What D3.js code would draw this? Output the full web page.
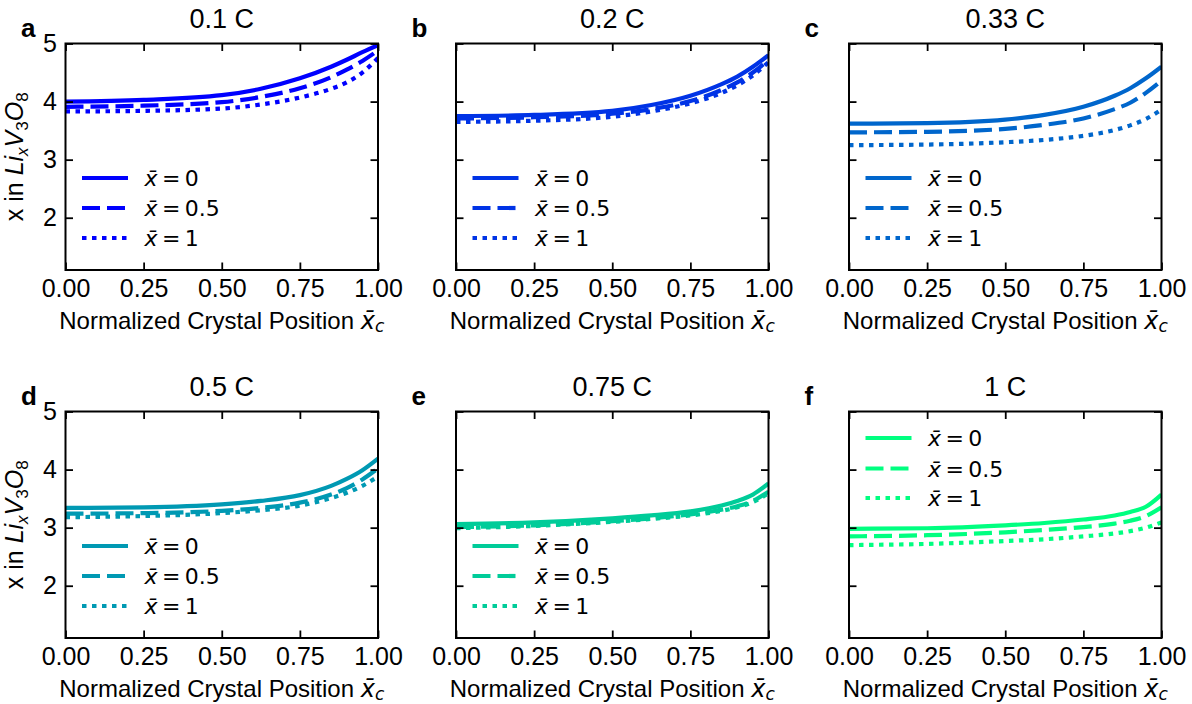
<!DOCTYPE html>
<html>
<head>
<meta charset="utf-8">
<script src="https://cdn.jsdelivr.net/npm/d3@7"></script>
<style>
  html, body { margin: 0; padding: 0; background: #fff; }
  svg { display: block; }
</style>
</head>
<body>
<div id="chart"></div>
<script>
// ---------------- data ----------------
const panelLetters = ["a", "b", "c", "d", "e", "f"];
const panelTitles = ["0.1 C", "0.2 C", "0.33 C", "0.5 C", "0.75 C", "1 C"];
const seriesNames = ["0", "0.5", "1"];            // x-bar values (legend)
const xPos = [0, 0.25, 0.5, 0.625, 0.75, 0.85, 0.9, 0.95, 1.0];
const xTicks = [0, 0.25, 0.5, 0.75, 1.0];
const xTickLabels = ["0.00", "0.25", "0.50", "0.75", "1.00"];
const yTicks = [2, 3, 4, 5];
const yTickLabels = ["2", "3", "4", "5"];
const colors = ["#0000ff", "#0033e6", "#0066cc", "#0099b3", "#00cc99", "#00ff80"];

const rate01 = [
  [4.00, 4.03, 4.11, 4.22, 4.40, 4.60, 4.72, 4.85, 4.97],
  [3.91, 3.93, 3.99, 4.08, 4.23, 4.42, 4.55, 4.70, 4.88],
  [3.83, 3.84, 3.88, 3.95, 4.07, 4.22, 4.33, 4.50, 4.75]
];
const rate02 = [
  [3.75, 3.77, 3.84, 3.94, 4.10, 4.30, 4.43, 4.60, 4.80],
  [3.71, 3.73, 3.79, 3.87, 4.01, 4.20, 4.33, 4.50, 4.72],
  [3.65, 3.67, 3.74, 3.83, 3.97, 4.15, 4.28, 4.45, 4.68]
];
const rate033 = [
  [3.62, 3.63, 3.69, 3.77, 3.91, 4.10, 4.23, 4.40, 4.60],
  [3.47, 3.48, 3.53, 3.60, 3.71, 3.87, 3.98, 4.15, 4.36],
  [3.25, 3.26, 3.30, 3.34, 3.41, 3.51, 3.59, 3.70, 3.86]
];
const rate05 = [
  [3.34, 3.35, 3.40, 3.46, 3.56, 3.72, 3.84, 3.99, 4.19],
  [3.24, 3.25, 3.29, 3.34, 3.43, 3.57, 3.68, 3.83, 4.02],
  [3.18, 3.20, 3.25, 3.30, 3.38, 3.51, 3.60, 3.72, 3.88]
];
const rate075 = [
  [3.06, 3.09, 3.16, 3.21, 3.28, 3.38, 3.46, 3.57, 3.76],
  [3.01, 3.04, 3.11, 3.16, 3.23, 3.31, 3.37, 3.46, 3.62],
  [2.99, 3.03, 3.10, 3.15, 3.21, 3.29, 3.35, 3.44, 3.59]
];
const rate1 = [
  [2.98, 2.99, 3.04, 3.08, 3.14, 3.21, 3.27, 3.36, 3.57],
  [2.85, 2.87, 2.92, 2.96, 3.01, 3.07, 3.12, 3.20, 3.35],
  [2.70, 2.72, 2.77, 2.80, 2.85, 2.90, 2.94, 3.00, 3.09]
];
const allRates = [rate01, rate02, rate033, rate05, rate075, rate1];

// ---------------- layout ----------------
const W = 1192, H = 704;
const lefts = [65.5, 456, 849];
const tops = [43.5, 411.5];
const pw = 312.5, ph = 226.5;
const dashes = [null, "18,7", "4.5,5.5"];
const legendTopRows = [134.5, 164.5, 194.5];
const legendTopRowsF = [26.5, 57, 86.5];
const SANS = "'Liberation Sans', Arial, Helvetica, sans-serif";
const MATH = "'DejaVu Sans', sans-serif";

const svg = d3.select("#chart").append("svg")
  .attr("width", W).attr("height", H)
  .attr("viewBox", `0 0 ${W} ${H}`);

const x = d3.scaleLinear().domain([0, 1]).range([0, pw]);
const y = d3.scaleLinear().domain([1.1, 5]).range([ph, 0]);

const line = d3.line()
  .x(d => x(d[0]))
  .y(d => y(d[1]))
  .curve(d3.curveMonotoneX);

function addXbar(textSel) {
  textSel.append("tspan")
    .attr("font-family", MATH)
    .attr("font-style", "italic")
    .text("x\u0304");
}

panelTitles.forEach((title, i) => {
  const col = i % 3, row = Math.floor(i / 3);
  const g = svg.append("g")
    .attr("transform", `translate(${lefts[col]},${tops[row]})`);

  const clipId = "clip" + i;
  g.append("clipPath").attr("id", clipId)
    .append("rect").attr("x", 0).attr("y", 0).attr("width", pw).attr("height", ph);

  // curves
  const data = allRates[i];
  const lines = g.append("g").attr("clip-path", `url(#${clipId})`);
  data.forEach((vals, s) => {
    const pts = xPos.map((xv, k) => [xv, vals[k]]);
    lines.append("path")
      .attr("d", line(pts))
      .attr("fill", "none")
      .attr("stroke", colors[i])
      .attr("stroke-width", 4.2)
      .attr("stroke-dasharray", dashes[s])
      .attr("stroke-linecap", "butt");
  });

  // axes
  const xa = d3.axisBottom(x).tickValues(xTicks)
    .tickFormat((d, k) => xTickLabels[k]).tickSize(-7.5).tickSizeOuter(0).tickPadding(9);
  const gx = g.append("g").attr("transform", `translate(0,${ph})`).call(xa);
  const xt = d3.axisTop(x).tickValues(xTicks).tickFormat("").tickSize(-7.5).tickSizeOuter(0);
  const gxt = g.append("g").call(xt);
  const ya = d3.axisLeft(y).tickValues(yTicks)
    .tickFormat((d, k) => col === 0 ? yTickLabels[k] : "").tickSize(-7.5).tickSizeOuter(0).tickPadding(8.5);
  const gy = g.append("g").call(ya);
  const yr = d3.axisRight(y).tickValues(yTicks).tickFormat("").tickSize(-7.5).tickSizeOuter(0);
  const gyr = g.append("g").attr("transform", `translate(${pw},0)`).call(yr);

  [gx, gxt, gy, gyr].forEach(a => {
    a.select(".domain").remove();
    a.selectAll(".tick line").attr("stroke", "#000").attr("stroke-width", 1.8);
    a.selectAll(".tick text").attr("font-family", SANS).attr("font-size", 25).attr("fill", "#000");
  });

  // frame
  g.append("rect").attr("x", 0).attr("y", 0).attr("width", pw).attr("height", ph)
    .attr("fill", "none").attr("stroke", "#000").attr("stroke-width", 2);

  // title
  g.append("text").attr("x", pw / 2).attr("y", -16)
    .attr("text-anchor", "middle").attr("font-family", SANS)
    .attr("font-size", 27).attr("fill", "#000").text(title);

  // panel letter
  g.append("text").attr("x", -44.5).attr("y", -6.5)
    .attr("font-family", SANS).attr("font-weight", "bold")
    .attr("font-size", 26).attr("fill", "#000").text(panelLetters[i]);

  // x label
  const xl = g.append("text").attr("x", pw / 2).attr("y", ph + 58.5)
    .attr("text-anchor", "middle").attr("font-family", SANS)
    .attr("font-size", 24).attr("fill", "#000");
  xl.append("tspan").text("Normalized Crystal Position ");
  addXbar(xl);
  xl.append("tspan").attr("font-family", MATH).attr("font-style", "italic")
    .attr("font-size", 17).attr("dy", 3).text("c");

  // y label
  if (col === 0) {
    const yl = g.append("text")
      .attr("transform", `translate(${-43},${ph / 2}) rotate(-90)`)
      .attr("text-anchor", "middle").attr("font-family", SANS)
      .attr("font-size", 25).attr("fill", "#000");
    yl.append("tspan").text("x in ");
    yl.append("tspan").attr("font-style", "italic").text("Li");
    yl.append("tspan").attr("font-style", "italic").attr("font-size", 17).attr("dy", 5).text("x");
    yl.append("tspan").attr("font-style", "italic").attr("dy", -5).text("V");
    yl.append("tspan").attr("font-size", 17).attr("dy", 5).text("3");
    yl.append("tspan").attr("font-style", "italic").attr("dy", -5).text("O");
    yl.append("tspan").attr("font-size", 17).attr("dy", 5).text("8");
  }

  // legend
  const rows = (i === 5) ? legendTopRowsF : legendTopRows;
  const lg = g.append("g");
  seriesNames.forEach((nm, s) => {
    const ry = rows[s];
    lg.append("line")
      .attr("x1", 16.5).attr("x2", 62.5).attr("y1", ry).attr("y2", ry)
      .attr("stroke", colors[i]).attr("stroke-width", 4.2)
      .attr("stroke-dasharray", dashes[s]);
    const t = lg.append("text").attr("x", 79).attr("y", ry + 8)
      .attr("font-family", MATH).attr("font-size", 22).attr("fill", "#000");
    addXbar(t);
    t.append("tspan").text("\u2009=\u2009" + nm);
  });
});
</script>
</body>
</html>
